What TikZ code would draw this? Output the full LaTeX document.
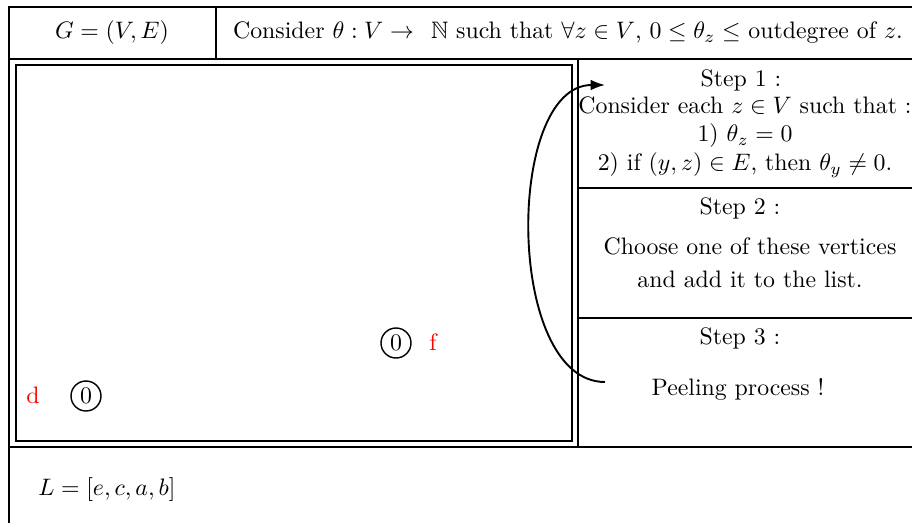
\documentclass[tikz,border=0pt]{standalone}
\usepackage{amssymb}
\usetikzlibrary{arrows.meta}
\begin{document}
\begin{tikzpicture}[x=0.42pt, y=-0.42pt,
  rule/.style={line width=0.5pt},
  heavyrule/.style={line width=0.75pt},
  frame/.style={line width=1.1pt},
  vertex/.style={circle, draw, semithick, inner sep=1pt, minimum size=12.6pt},
  vname/.style={text=red},
  arrow/.style={->, thick, >={Latex[length=6pt,width=4.5pt]}}
]
\useasboundingbox (0,0) rectangle (912,523);

% table lines
\draw[rule] (9,523) -- (9,7) -- (912,7);
\draw[rule] (216,7) -- (216,59);
\draw[heavyrule] (9,59) -- (912,59);
\draw[rule] (578,59) -- (578,447);
\draw[rule] (578,188) -- (912,188);
\draw[rule] (578,318) -- (912,318);
\draw[heavyrule] (9,447) -- (912,447);
\draw[frame] (16,65) rectangle (572,441);

% header
\node (graph) at (112,33) {$G=(V,E)$};
\node (theta) at (568,33) {Consider $\theta : V \to\;\, \mathbb{N}$ such that $\forall z\in V$, $0\le\theta_z\le$ outdegree of $z$.};

% steps
\node (step1) at (741,80) {Step 1 :};
\node[align=center, inner sep=0pt] (cond) at (745,137) {Consider each $z\in V$ such that :\\
  1) $\theta_z=0$\\
  2) if $(y,z)\in E$, then $\theta_y\neq 0$.};
\node (step2) at (740,208) {Step 2 :};
\node (choose1) at (750,246) {Choose one of these vertices};
\node (choose2) at (750,279) {and add it to the list.};
\node (step3) at (740,338) {Step 3 :};
\node (peel) at (738,389) {Peeling process !};

% vertices
\node[vertex] (vd) at (86,396) {0};
\node[vname] (d) at (33,395) {d};
\node[vertex] (vf) at (396,343) {0};
\node[vname] (f) at (433,342) {f};

% list
\node[anchor=west] (list) at (30,490) {$L=[e,c,a,b]$};

% loop back
\coordinate (loopin) at (605,382);
\coordinate (loopout) at (605,85);
\draw[arrow] (loopin) .. controls (505,382) and (505,85) .. (loopout);
\end{tikzpicture}
\end{document}
